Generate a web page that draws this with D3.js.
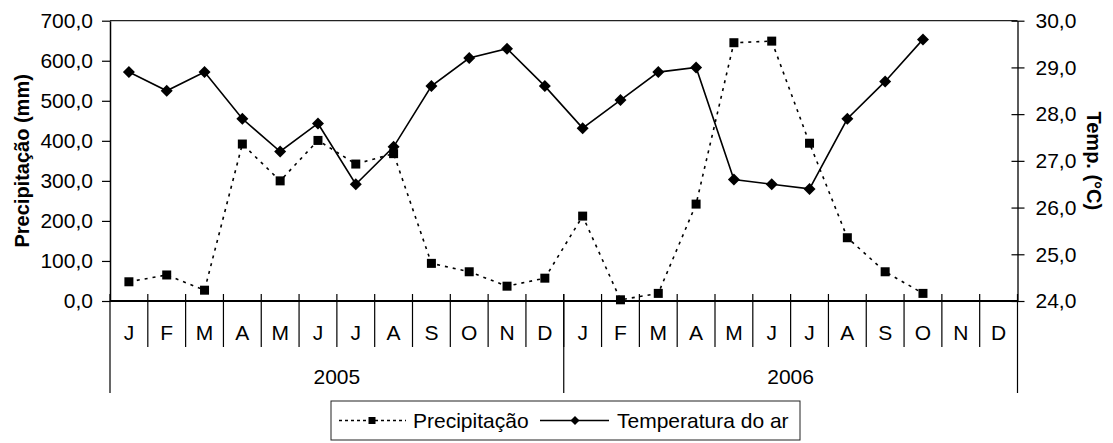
<!DOCTYPE html>
<html>
<head>
<meta charset="utf-8">
<script src="https://cdn.jsdelivr.net/npm/d3@7/dist/d3.min.js"></script>
<style>
  html, body { margin: 0; padding: 0; background: #fff; }
  svg { display: block; font-family: "Liberation Sans", Arial, sans-serif; }
</style>
</head>
<body>
<svg id="chart" width="1113" height="443"></svg>
<script>
// ---- data ----
const months = ["J","F","M","A","M","J","J","A","S","O","N","D"];
const years = ["2005", "2006"];
const precipitacao = [48, 65, 27, 392, 300, 401, 342, 368, 94, 73, 37, 57,
                      212, 3, 19, 242, 645, 649, 394, 158, 73, 19, null, null];
const temperatura = [28.9, 28.5, 28.9, 27.9, 27.2, 27.8, 26.5, 27.3, 28.6, 29.2, 29.4, 28.6,
                     27.7, 28.3, 28.9, 29.0, 26.6, 26.5, 26.4, 27.9, 28.7, 29.6, null, null];
const leftTicks = [0, 100, 200, 300, 400, 500, 600, 700];
const rightTicks = [24, 25, 26, 27, 28, 29, 30];
const leftTitle = "Precipitação (mm)";
const rightTitle = "Temp. (°C)";
const legendLabels = ["Precipitação", "Temperatura do ar"];

// ---- layout ----
const L = 110, R = 1017.5, T = 20.7, B = 301;
const svg = d3.select("#chart");
const fmt = v => d3.format(".1f")(v).replace(".", ",");

const cats = d3.range(years.length * months.length);
const x = d3.scaleBand().domain(cats).range([L, R]).padding(0);
const yP = d3.scaleLinear().domain([0, 700]).range([B, T]);
const yT = d3.scaleLinear().domain([24, 30]).range([B, T]);

// frame top line
svg.append("line").attr("x1", L).attr("x2", R).attr("y1", T).attr("y2", T)
  .attr("stroke", "#222").attr("stroke-width", 1.2);

// left axis
const gl = svg.append("g").attr("transform", `translate(${L},0)`)
  .call(d3.axisLeft(yP).tickValues(leftTicks).tickFormat(fmt).tickSize(8).tickSizeOuter(0).tickPadding(9));
gl.select(".domain").attr("stroke", "#000").attr("stroke-width", 1.5);
gl.selectAll(".tick line").attr("stroke", "#000").attr("stroke-width", 1.2);
gl.selectAll(".tick text").attr("font-size", 21).attr("fill", "#000")
  .attr("font-family", "Liberation Sans, Arial, sans-serif");

// right axis
const gr = svg.append("g").attr("transform", `translate(${R},0)`)
  .call(d3.axisRight(yT).tickValues(rightTicks).tickFormat(fmt).tickSize(7).tickSizeOuter(0).tickPadding(11));
gr.select(".domain").attr("stroke", "#000").attr("stroke-width", 1.3);
gr.selectAll(".tick line").attr("x1", -6).attr("stroke", "#000").attr("stroke-width", 1.2);
gr.selectAll(".tick text").attr("font-size", 21).attr("fill", "#000")
  .attr("font-family", "Liberation Sans, Arial, sans-serif");

// bottom axis (category)
svg.append("line").attr("x1", L).attr("x2", R).attr("y1", B).attr("y2", B)
  .attr("stroke", "#000").attr("stroke-width", 2.2);
const bounds = cats.slice(1);
svg.append("g").selectAll("line").data(bounds).join("line")
  .attr("x1", d => x(d)).attr("x2", d => x(d))
  .attr("y1", B - 7).attr("y2", 347)
  .attr("stroke", "#000").attr("stroke-width", 1.2);
// year separators
const yearEdges = d3.range(years.length + 1).map(i => i < years.length ? x(i * months.length) : R);
svg.append("g").selectAll("line").data(yearEdges).join("line")
  .attr("x1", d => d).attr("x2", d => d)
  .attr("y1", B - 7).attr("y2", 393)
  .attr("stroke", "#000").attr("stroke-width", 1.2);
// month labels
svg.append("g").selectAll("text").data(cats).join("text")
  .attr("x", d => x(d) + x.bandwidth() / 2)
  .attr("y", 333).attr("dy", "0.35em")
  .attr("text-anchor", "middle").attr("font-size", 21)
  .text(d => months[d % months.length]);
// year labels
svg.append("g").selectAll("text").data(years).join("text")
  .attr("x", (d, i) => (yearEdges[i] + yearEdges[i + 1]) / 2)
  .attr("y", 377).attr("dy", "0.35em")
  .attr("text-anchor", "middle").attr("font-size", 21)
  .text(d => d);

// axis titles
svg.append("text").attr("transform", `translate(29,${(T + B) / 2}) rotate(-90)`)
  .attr("text-anchor", "middle").attr("font-size", 20).attr("font-weight", "bold")
  .text(leftTitle);
svg.append("text").attr("transform", `translate(1087,${(T + B) / 2}) rotate(90)`)
  .attr("text-anchor", "middle").attr("font-size", 20).attr("font-weight", "bold")
  .text(rightTitle);

// ---- series ----
const cx = i => x(i) + x.bandwidth() / 2;
const tempData = temperatura.map((v, i) => ({ i, v })).filter(d => d.v != null);
const precData = precipitacao.map((v, i) => ({ i, v })).filter(d => d.v != null);

const diamond = s => `M0,${-s}L${s},0L0,${s}L${-s},0Z`;

svg.append("path").datum(tempData)
  .attr("d", d3.line().x(d => cx(d.i)).y(d => yT(d.v)))
  .attr("fill", "none").attr("stroke", "#000").attr("stroke-width", 1.6);
svg.append("g").selectAll("path").data(tempData).join("path")
  .attr("transform", d => `translate(${cx(d.i)},${yT(d.v)})`)
  .attr("d", diamond(6)).attr("fill", "#000");

svg.append("path").datum(precData)
  .attr("d", d3.line().x(d => cx(d.i)).y(d => yP(d.v)))
  .attr("fill", "none").attr("stroke", "#000").attr("stroke-width", 1.6)
  .attr("stroke-dasharray", "3,5");
svg.append("g").selectAll("rect").data(precData).join("rect")
  .attr("x", d => cx(d.i) - 4.5).attr("y", d => yP(d.v) - 4.5)
  .attr("width", 9).attr("height", 9).attr("fill", "#000");

// ---- legend ----
const lg = svg.append("g");
lg.append("rect").attr("x", 331).attr("y", 401).attr("width", 469).attr("height", 39)
  .attr("fill", "#fff").attr("stroke", "#222").attr("stroke-width", 1);
const ly = 420.5;
lg.append("line").attr("x1", 339).attr("x2", 406).attr("y1", ly).attr("y2", ly)
  .attr("stroke", "#000").attr("stroke-width", 1.6).attr("stroke-dasharray", "3,3");
lg.append("rect").attr("x", 372 - 3.5).attr("y", ly - 3.5).attr("width", 7).attr("height", 7).attr("fill", "#000");
lg.append("text").attr("x", 413).attr("y", ly).attr("dy", "0.35em").attr("font-size", 21).text(legendLabels[0]);
lg.append("line").attr("x1", 540).attr("x2", 609).attr("y1", ly).attr("y2", ly)
  .attr("stroke", "#000").attr("stroke-width", 1.6);
lg.append("path").attr("transform", `translate(575,${ly})`).attr("d", diamond(4.5)).attr("fill", "#000");
lg.append("text").attr("x", 617).attr("y", ly).attr("dy", "0.35em").attr("font-size", 21).text(legendLabels[1]);
</script>
</body>
</html>
